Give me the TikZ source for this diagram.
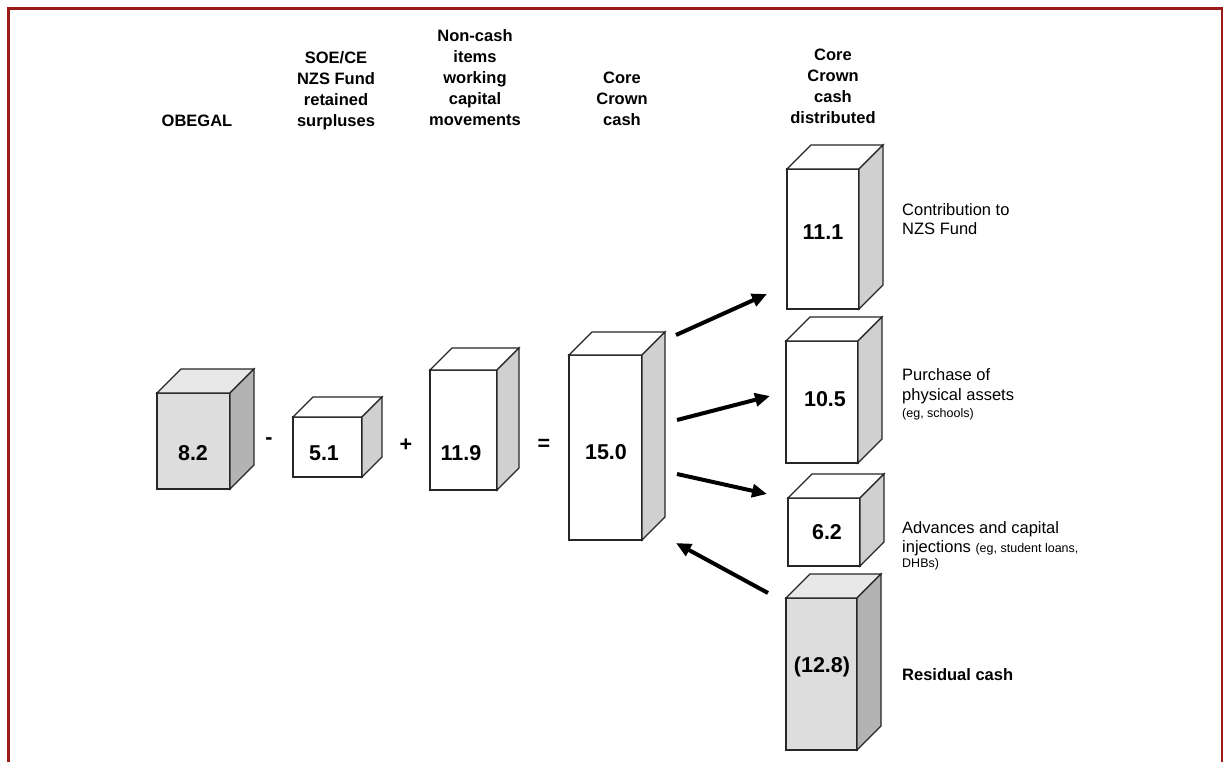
\documentclass[tikz,border=0pt]{standalone}
\usepackage{fontspec}
\setmainfont{Liberation Sans}
\usetikzlibrary{arrows.meta}
\definecolor{frame}{HTML}{9B1B1B}
\definecolor{gfront}{HTML}{DDDDDD}
\definecolor{gtop}{HTML}{E8E8E8}
\definecolor{gside}{HTML}{B3B3B3}
\definecolor{wside}{HTML}{D0D0D0}
\newcommand\boxcube[8]{%
  \filldraw[boxline,fill=#6] (#1,#2) rectangle (#3,#4);
  \filldraw[boxline,fill=#7] (#1,#2) -- ({#1+#5},{#2-#5}) -- ({#3+#5},{#2-#5}) -- (#3,#2) -- cycle;
  \filldraw[boxline,fill=#8] (#3,#2) -- ({#3+#5},{#2-#5}) -- ({#3+#5},{#4-#5}) -- (#3,#4) -- cycle;
}
\begin{document}
\begin{tikzpicture}[x=1pt,y=-1pt,
  boxline/.style={draw=black!85,line width=1.3pt,line join=miter},
  head/.style={font=\bfseries\fontsize{16.5}{21}\selectfont,align=center,anchor=base,inner sep=0pt},
  num/.style={font=\bfseries\fontsize{21.5}{24}\selectfont,inner sep=0pt},
  lab/.style={font=\fontsize{16.5}{19.5}\selectfont,align=left,anchor=base west,inner sep=0pt},
  small/.style={font=\fontsize{12.5}{15}\selectfont,anchor=base west,inner sep=0pt},
  flow/.style={line width=4pt,-{Triangle[length=15pt,width=13pt]}}]
\useasboundingbox (0,0) rectangle (1224,762);
\fill[white] (0,0) rectangle (1224,762);
\draw[frame,line width=2.5pt] (8.5,762) -- (8.5,8.5) -- (1222,8.5) -- (1222,762);

% headings (anchor = baseline of last line)
\node[head] (h1) at (197,127) {OBEGAL};
\node[head] (h2) at (336,127) {SOE/CE\\NZS Fund\\retained\\surpluses};
\node[head] (h3) at (475,126) {Non-cash\\items\\working\\capital\\movements};
\node[head] (h4) at (622,126) {Core\\Crown\\cash};
\node[head] (h5) at (833,124) {Core\\Crown\\cash\\distributed};

% cubes
\boxcube{157}{393}{230}{489}{24}{gfront}{gtop}{gside}
\boxcube{293}{417}{362}{477}{20}{white}{white}{wside}
\boxcube{430}{370}{497}{490}{22}{white}{white}{wside}
\boxcube{569}{355}{642}{540}{23}{white}{white}{wside}
\boxcube{787}{169}{859}{309}{24}{white}{white}{wside}
\boxcube{786}{341}{858}{463}{24}{white}{white}{wside}
\boxcube{788}{498}{860}{566}{24}{white}{white}{wside}
\boxcube{786}{598}{857}{750}{24}{gfront}{gtop}{gside}

% values
\node[num] (v1) at (193,453) {8.2};
\node[num] (v2) at (324,453) {5.1};
\node[num] (v3) at (461,453) {11.9};
\node[num] (v4) at (606,452) {15.0};
\node[num] (v5) at (823,232) {11.1};
\node[num] (v6) at (825,399) {10.5};
\node[num] (v7) at (827,532) {6.2};
\node[num] (v8) at (822,667) {(12.8)};

% operators
\node[num] (o1) at (269,441) {-};
\node[num] (o2) at (406,445) {+};
\node[num] (o3) at (544,445) {=};

% labels (anchor = baseline of last line)
\node[lab] (l1) at (902,235) {Contribution to\\NZS Fund};
\node[lab] (l2) at (902,400) {Purchase of\\physical assets};
\node[small] (l2b) at (902,417) {(eg, schools)};
\node[lab] (l3) at (902,533) {Advances and capital};
\node[lab] (l3b) at (902,552) {injections {\fontsize{12.5}{15}\selectfont(eg, student loans,}};
\node[small] (l3c) at (902,567) {DHBs)};
\node[lab,font=\bfseries\fontsize{16.5}{19}\selectfont] (l4) at (902,680) {Residual cash};

% arrows
\coordinate (a1s) at (676,335); \coordinate (a1e) at (767,294);
\coordinate (a2s) at (677,420); \coordinate (a2e) at (770,396);
\coordinate (a3s) at (677,474); \coordinate (a3e) at (767,494);
\coordinate (a4s) at (768,593); \coordinate (a4e) at (676,543);
\draw[flow] (a1s) -- (a1e);
\draw[flow] (a2s) -- (a2e);
\draw[flow] (a3s) -- (a3e);
\draw[flow] (a4s) -- (a4e);
\end{tikzpicture}
\end{document}
